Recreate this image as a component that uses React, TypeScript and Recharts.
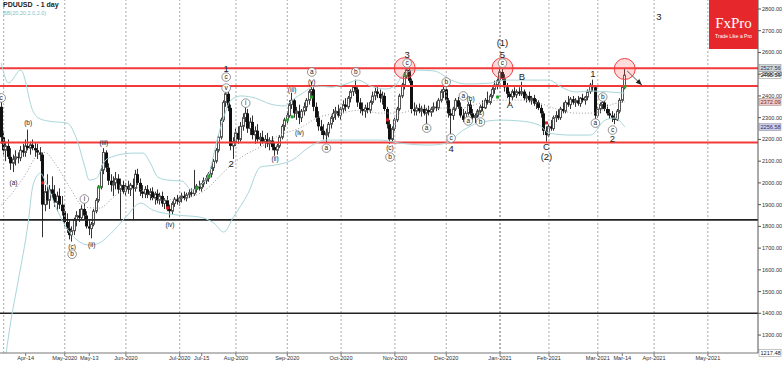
import React from 'react';
import {
  ComposedChart, Bar, Line, XAxis, YAxis, ReferenceLine, ReferenceDot,
} from 'recharts';

// ---------- data (O, H, L, C) per daily bar ----------
const candles: [number, number, number, number][] = [
  [2350,2390,2180,2210],[2210,2240,2130,2150],[2150,2190,2100,2170],[2170,2200,2110,2120],
  [2120,2160,2060,2090],[2090,2130,2050,2110],[2110,2150,2080,2120],[2120,2140,2090,2115],
  [2115,2170,2100,2150],[2150,2180,2120,2140],[2140,2200,2120,2170],[2170,2245,2150,2160],
  [2160,2190,2130,2175],[2175,2200,2150,2160],[2160,2185,2120,2150],[2150,2180,2110,2140],
  [2140,2165,2100,2130],[2130,2140,1750,1900],[1900,1990,1870,1960],[1960,2040,1900,1920],
  [1920,1990,1880,1970],[1970,2030,1930,1950],[1950,1990,1890,1910],[1910,1960,1870,1940],
  [1940,1975,1880,1900],[1900,1940,1850,1870],[1870,1900,1800,1820],[1820,1860,1770,1790],
  [1790,1830,1740,1760],[1760,1800,1730,1780],[1780,1840,1760,1830],[1830,1870,1800,1850],
  [1850,1880,1820,1840],[1840,1900,1830,1880],[1880,1905,1830,1850],[1850,1870,1790,1800],
  [1800,1830,1760,1790],[1790,1820,1745,1810],[1810,1880,1800,1870],[1870,1930,1860,1920],
  [1920,1990,1910,1980],[1980,2080,1970,2060],[2060,2160,2040,2140],[2140,2150,2050,2070],
  [2070,2090,1990,2010],[2010,2040,1960,1990],[1990,2030,1940,2000],[2000,2050,1970,2020],
  [2020,2040,1950,1970],[1970,2020,1830,1990],[1990,2010,1950,1960],[1960,2000,1940,1985],
  [1985,2010,1950,1970],[1970,2000,1940,1990],[1990,2020,1830,1975],[1975,2060,1960,2040],
  [2040,2065,1990,2000],[2000,2020,1940,1960],[1960,1990,1930,1950],[1950,1985,1930,1970],
  [1970,1990,1930,1945],[1945,1975,1920,1960],[1960,1980,1920,1930],[1930,1960,1900,1950],
  [1950,1970,1905,1920],[1920,1955,1900,1940],[1940,1960,1890,1905],[1905,1930,1880,1920],
  [1920,1940,1870,1880],[1880,1900,1840,1870],[1870,1915,1855,1905],[1905,1935,1890,1925],
  [1925,1945,1900,1915],[1915,1940,1895,1930],[1930,1955,1910,1940],[1940,1960,1920,1930],
  [1930,1955,1915,1945],[1945,1970,1930,1955],[1955,1975,1935,1950],[1950,2060,1940,1970],
  [1970,1995,1955,1985],[1985,2010,1965,1975],[1975,2000,1960,1995],[1995,2025,1980,2010],
  [2010,2035,1995,2020],[2020,2050,2005,2040],[2040,2080,2025,2070],[2070,2110,2055,2100],
  [2100,2160,2090,2150],[2150,2220,2140,2210],[2210,2300,2200,2290],[2290,2380,2280,2370],
  [2370,2440,2350,2410],[2410,2420,2330,2345],[2345,2360,2150,2170],[2170,2210,2110,2190],
  [2190,2250,2170,2230],[2230,2260,2180,2200],[2200,2280,2190,2260],[2260,2320,2240,2300],
  [2300,2370,2280,2320],[2320,2340,2230,2250],[2250,2300,2220,2280],[2280,2310,2200,2220],
  [2220,2260,2180,2240],[2240,2270,2190,2200],[2200,2230,2170,2210],[2210,2240,2180,2190],
  [2190,2220,2160,2200],[2200,2230,2165,2180],[2180,2210,2150,2195],[2195,2215,2150,2165],
  [2165,2185,2125,2150],[2150,2180,2130,2170],[2170,2220,2160,2210],[2210,2270,2200,2260],
  [2260,2300,2240,2290],[2290,2330,2270,2310],[2310,2380,2300,2360],[2360,2415,2340,2380],
  [2380,2390,2300,2320],[2320,2350,2290,2330],[2330,2360,2270,2300],[2300,2340,2280,2330],
  [2330,2370,2310,2350],[2350,2390,2330,2380],[2380,2430,2360,2420],[2420,2465,2400,2430],
  [2430,2440,2330,2350],[2350,2370,2280,2300],[2300,2330,2240,2260],[2260,2290,2220,2240],
  [2240,2270,2200,2220],[2220,2250,2185,2230],[2230,2280,2210,2270],[2270,2310,2250,2300],
  [2300,2340,2280,2320],[2320,2350,2290,2330],[2330,2360,2300,2310],[2310,2350,2290,2340],
  [2340,2380,2320,2360],[2360,2390,2330,2350],[2350,2400,2340,2390],[2390,2430,2370,2420],
  [2420,2450,2400,2440],[2440,2475,2410,2430],[2430,2440,2350,2370],[2370,2390,2320,2340],
  [2340,2370,2310,2330],[2330,2360,2300,2345],[2345,2370,2320,2335],[2335,2380,2320,2370],
  [2370,2420,2360,2400],[2400,2440,2380,2420],[2420,2445,2390,2410],[2410,2430,2370,2390],
  [2390,2420,2360,2400],[2400,2415,2330,2340],[2340,2350,2250,2270],[2270,2290,2180,2200],
  [2200,2260,2190,2250],[2250,2300,2240,2290],[2290,2350,2280,2340],[2340,2410,2330,2400],
  [2400,2460,2390,2450],[2450,2510,2430,2490],[2490,2560,2480,2520],[2520,2530,2460,2470],
  [2470,2480,2320,2340],[2340,2370,2310,2330],[2330,2360,2310,2345],[2345,2365,2320,2330],
  [2330,2355,2305,2340],[2340,2360,2310,2320],[2320,2345,2265,2335],[2335,2355,2310,2325],
  [2325,2350,2305,2340],[2340,2370,2325,2350],[2350,2375,2330,2345],[2345,2390,2335,2380],
  [2380,2430,2370,2420],[2420,2445,2390,2430],[2430,2440,2360,2380],[2380,2390,2300,2320],
  [2320,2340,2210,2310],[2310,2350,2290,2340],[2340,2390,2330,2380],[2380,2395,2340,2350],
  [2350,2370,2300,2310],[2310,2340,2280,2290],[2290,2330,2280,2320],[2320,2370,2310,2360],
  [2360,2380,2310,2320],[2320,2340,2290,2300],[2300,2320,2275,2310],[2310,2340,2300,2330],
  [2330,2360,2320,2350],[2350,2380,2330,2345],[2345,2390,2340,2380],[2380,2420,2360,2370],
  [2370,2410,2360,2400],[2400,2440,2390,2430],[2430,2470,2410,2450],[2450,2480,2430,2470],
  [2470,2530,2460,2510],[2510,2550,2470,2480],[2480,2500,2420,2440],[2440,2460,2390,2410],
  [2410,2420,2360,2395],[2395,2430,2380,2420],[2420,2440,2395,2405],[2405,2430,2390,2420],
  [2420,2440,2400,2410],[2410,2465,2400,2420],[2420,2430,2380,2390],[2390,2410,2370,2400],
  [2400,2420,2370,2380],[2380,2400,2360,2390],[2390,2405,2355,2365],[2365,2385,2340,2370],
  [2370,2380,2335,2345],[2345,2360,2300,2320],[2320,2330,2220,2240],[2240,2260,2190,2220],
  [2220,2270,2210,2260],[2260,2290,2240,2250],[2250,2310,2240,2300],[2300,2330,2280,2310],
  [2310,2340,2290,2300],[2300,2350,2290,2340],[2340,2370,2320,2330],[2330,2380,2320,2370],
  [2370,2400,2350,2360],[2360,2395,2340,2385],[2385,2400,2360,2370],[2370,2390,2350,2380],
  [2380,2400,2355,2365],[2365,2395,2350,2390],[2390,2410,2370,2380],[2380,2400,2360,2395],
  [2395,2430,2380,2420],[2420,2460,2410,2450],[2450,2475,2420,2440],[2440,2450,2280,2310],
  [2310,2350,2300,2340],[2340,2370,2320,2360],[2360,2385,2340,2370],[2370,2380,2330,2340],
  [2340,2360,2310,2320],[2320,2340,2295,2310],[2310,2330,2280,2300],[2300,2320,2270,2290],
  [2290,2340,2285,2330],[2330,2390,2320,2380],[2380,2450,2370,2440],[2440,2530,2430,2495.59],
];

const TOTAL_SLOTS = 310;

// Bollinger band readings: [bar index, price]
const bbUpper: [number, number][] = [
  [0,2552],[3,2460],[8,2519],[13,2330],[15,2300],[19,2285],[27,2275],[31,2197],[34,2082],
  [36,2013],[39,2022],[42,2096],[45,2119],[54,2137],[58,2137],[61,2091],[64,2027],[68,2013],
  [74,2008],[78,1967],[81,1985],[85,2045],[88,2183],[91,2303],[94,2381],[98,2400],[104,2390],
  [110,2363],[116,2354],[119,2381],[124,2418],[128,2446],[135,2441],[141,2455],[146,2473],
  [151,2446],[157,2432],[161,2446],[164,2492],[169,2519],[177,2515],[184,2473],[190,2455],
  [200,2459],[206,2473],[216,2473],[224,2473],[229,2441],[235,2418],[241,2423],[249,2418],[255,2413],
];
const bbMiddle: [number, number][] = [
  [0,1898],[5,1960],[10,2040],[15,2130],[18,2140],[22,2090],[28,1980],[34,1889],[40,1884],
  [47,1944],[54,1981],[65,1921],[77,1935],[85,1981],[89,2027],[95,2091],[101,2137],[106,2165],
  [114,2220],[122,2252],[130,2303],[139,2321],[147,2335],[155,2321],[163,2321],[171,2344],
  [180,2344],[188,2344],[196,2367],[204,2381],[212,2381],[220,2367],[226,2344],[235,2321],
  [243,2321],[249,2358],[255,2372],
];
const bbLower: [number, number][] = [
  [2,1217],[4,1369],[7,1553],[11,1815],[13,1990],[16,2045],[18,2010],[22,1898],[26,1806],
  [31,1737],[36,1714],[40,1723],[45,1769],[51,1843],[57,1907],[62,1875],[72,1852],[81,1843],
  [87,1815],[91,1774],[95,1843],[101,1953],[106,2073],[112,2082],[119,2105],[126,2165],
  [133,2197],[147,2197],[155,2197],[163,2183],[175,2174],[182,2183],[189,2243],[195,2275],
  [204,2289],[212,2285],[220,2266],[224,2229],[233,2220],[241,2220],[247,2289],[251,2298],[255,2257],
];

// signal dots: [bar index, price]
const greenDots: [number, number][] = [[40,1981],[80,1977],[85,2030],[117,2290],[119,2304],[127,2395],[165,2497],[203,2395],[255,2441]];
const redDots: [number, number][] = [[17,2000],[68,1885],[158,2290],[223,2276]];

// horizontal levels
const redLevels = [2527.56, 2446, 2186];
const blackLevels = [1830, 1400];

// x-axis ticks (bar index -> label)
const xTickIdx = [10, 26, 36, 51, 73, 82, 96, 117, 139, 161, 182, 204, 224, 244, 254, 267, 289];
const xTickLabels = ['Apr-14','May-2020','May-13','Jun-2020','Jul-2020','Jul-15','Aug-2020','Sep-2020','Oct-2020','Nov-2020','Dec-2020','Jan-2021','Feb-2021','Mar-2021','Mar-14','Apr-2021','May-2021'];
const monthGridIdx = [1, 26, 51, 73, 96, 117, 139, 161, 182, 204, 224, 244, 267, 289];
const yTicks = [1300,1400,1500,1600,1700,1800,1900,2000,2100,2200,2300,2400,2500,2600,2700,2800];

// price tags on the right axis: [price, background, text colour]
const priceTags: [number, string, string][] = [
  [2527.56, '#cfd8e0', '#334'], [2495.59, '#ffffff', '#111'], [2372.09, '#f3c9c9', '#633'],
  [2256.58, '#c9cbf0', '#335'], [1217.48, '#ffffff', '#222'],
];

// highlighted tops (red circles)
const topCircles: [number, number][] = [[165, 2528], [205, 2528], [255, 2524]];

// wave labels: bar index, price, text, kind (s small, c circled, b big)
const waveLabels: { i: number; p: number; t: string; k: 's' | 'c' | 'b' }[] = [
  { i: 0, p: 2391, t: 'c', k: 'c' },
  { i: 5, p: 1999, t: '(a)', k: 's' },
  { i: 11, p: 2275, t: '(b)', k: 's' },
  { i: 29, p: 1705, t: '(c)', k: 's' },
  { i: 29, p: 1672, t: 'b', k: 'c' },
  { i: 34, p: 1926, t: 'i', k: 'c' },
  { i: 37, p: 1714, t: '(ii)', k: 's' },
  { i: 42, p: 2183, t: '(iii)', k: 's' },
  { i: 69, p: 1806, t: '(iv)', k: 's' },
  { i: 92, p: 2436, t: 'v', k: 'c' },
  { i: 92, p: 2487, t: 'c', k: 'c' },
  { i: 92, p: 2524, t: '1', k: 'b' },
  { i: 94, p: 2091, t: '2', k: 'b' },
  { i: 100, p: 2367, t: 'i', k: 'c' },
  { i: 112, p: 2110, t: '(ii)', k: 's' },
  { i: 119, p: 2427, t: '(iii)', k: 's' },
  { i: 122, p: 2229, t: '(iv)', k: 's' },
  { i: 127, p: 2464, t: '(v)', k: 's' },
  { i: 127, p: 2510, t: 'a', k: 'c' },
  { i: 133, p: 2160, t: 'a', k: 'c' },
  { i: 145, p: 2510, t: 'b', k: 'c' },
  { i: 159, p: 2160, t: '(c)', k: 's' },
  { i: 159, p: 2119, t: 'b', k: 'c' },
  { i: 166, p: 2551, t: 'c', k: 'c' },
  { i: 166, p: 2588, t: '3', k: 'b' },
  { i: 174, p: 2252, t: 'a', k: 'c' },
  { i: 182, p: 2464, t: 'b', k: 'c' },
  { i: 184, p: 2206, t: 'c', k: 'c' },
  { i: 184, p: 2160, t: '4', k: 'b' },
  { i: 189, p: 2400, t: 'a', k: 'c' },
  { i: 192, p: 2386, t: '(b)', k: 's' },
  { i: 191, p: 2285, t: 'a', k: 'c' },
  { i: 196, p: 2321, t: '(c)', k: 's' },
  { i: 196, p: 2280, t: 'b', k: 'c' },
  { i: 205, p: 2551, t: 'c', k: 'c' },
  { i: 205, p: 2592, t: '5', k: 'b' },
  { i: 205, p: 2645, t: '(1)', k: 'b' },
  { i: 208, p: 2358, t: 'A', k: 'b' },
  { i: 213, p: 2487, t: 'B', k: 'b' },
  { i: 223, p: 2165, t: 'C', k: 'b' },
  { i: 223, p: 2119, t: '(2)', k: 'b' },
  { i: 242, p: 2505, t: '1', k: 'b' },
  { i: 243, p: 2275, t: 'a', k: 'c' },
  { i: 246, p: 2395, t: 'b', k: 'c' },
  { i: 250, p: 2243, t: 'c', k: 'c' },
  { i: 250, p: 2202, t: '2', k: 'b' },
  { i: 269, p: 2763, t: '3', k: 'b' },
];

// projected move arrow: from / to (bar index, price)
const arrowFrom: [number, number] = [256, 2515];
const arrowTo: [number, number] = [262, 2450];

// ---------- table built from the arrays ----------
type Row = { i: number; range?: [number, number] | null; o?: number; h?: number; l?: number; c?: number; up?: number; mid?: number; lo?: number };
const rows: Row[] = Array.from({ length: TOTAL_SLOTS }, (_, i) => {
  const k = candles[i];
  return k ? { i, range: [k[2], k[1]], o: k[0], h: k[1], l: k[2], c: k[3] } : { i, range: null };
});
bbUpper.forEach(([i, v]) => { rows[i].up = v; });
bbMiddle.forEach(([i, v]) => { rows[i].mid = v; });
bbLower.forEach(([i, v]) => { rows[i].lo = v; });

const FONT = '"Liberation Sans", Arial, sans-serif';

const Candle = (props: any) => {
  const { x, y, width, height, payload } = props;
  if (!payload || payload.o == null) return null;
  const { o, h, l, c } = payload;
  const top = Math.min(y, y + height);
  const bot = Math.max(y, y + height);
  const k = h === l ? 0 : (bot - top) / (h - l);
  const yo = top + (h - o) * k;
  const yc = top + (h - c) * k;
  const up = c >= o;
  const cx = Math.floor(x + width / 2);
  const bTop = Math.min(yo, yc);
  const bH = Math.max(1, Math.abs(yc - yo));
  return (
    <g>
      <line x1={cx + 0.5} x2={cx + 0.5} y1={top} y2={bot} stroke="#333" strokeWidth={1} />
      {up ? (
        <rect x={cx - 0.5} y={bTop} width={2} height={bH} fill="#fff" stroke="#555" strokeWidth={1} />
      ) : (
        <rect x={cx - 1} y={bTop} width={3} height={bH} fill="#111" />
      )}
    </g>
  );
};

const waveShape = (a: { t: string; k: 's' | 'c' | 'b' }) => (props: any) => {
  const { cx, cy } = props;
  if (cx == null || cy == null) return <g />;
  if (a.k === 'c') {
    return (
      <g>
        <circle cx={cx} cy={cy} r={4.3} fill="#fff" stroke="#777" strokeWidth={0.8} />
        <text x={cx} y={cy + 2.3} textAnchor="middle" fontSize={6.5} fontFamily={FONT} fill="#222">{a.t}</text>
      </g>
    );
  }
  if (a.k === 'b') {
    return <text x={cx} y={cy + 3.4} textAnchor="middle" fontSize={9.5} fontFamily={FONT} fill="#222">{a.t}</text>;
  }
  return <text x={cx} y={cy + 2.3} textAnchor="middle" fontSize={6.5} fontFamily={FONT} fill="#222">{a.t}</text>;
};

const dotShape = (color: string) => (props: any) => {
  const { cx, cy } = props;
  if (cx == null) return <g />;
  return <rect x={cx - 1.5} y={cy - 1.5} width={3} height={3} fill={color} />;
};

const arrowHead = (props: any) => {
  const { cx, cy } = props;
  if (cx == null) return <g />;
  return <polygon points="0,0 -6,-2.6 -6,2.6" fill="#222" transform={`translate(${cx},${cy}) rotate(44)`} />;
};

const tagLabel = (bg: string, fg: string, text: string) => (props: any) => {
  const vb = props.viewBox || {};
  const x = (vb.x || 0) + (vb.width || 0) + 1;
  const y = vb.y || 0;
  return (
    <g>
      <rect x={x} y={y - 3.5} width={22} height={7} fill={bg} stroke="#888" strokeWidth={0.5} />
      <text x={x + 1.5} y={y + 2} fontSize={5.6} fontFamily={FONT} fill={fg}>{text}</text>
    </g>
  );
};

export default function App() {
  return (
    <div style={{ position: 'absolute', left: 0, top: 0, width: 782, height: 366, background: '#fff', overflow: 'hidden' }}>
      <ComposedChart
        width={782}
        height={366}
        data={rows}
        margin={{ top: 0, right: 0, left: 0, bottom: 0 }}
        barCategoryGap={0}
        barGap={0}
      >
        <XAxis
          dataKey="i"
          type="category"
          ticks={xTickIdx}
          interval={0}
          height={13}
          tickSize={3}
          tickMargin={0}
          axisLine={{ stroke: '#777' }}
          tickLine={{ stroke: '#777' }}
          tick={{ fontSize: 5.6, fontFamily: FONT, fill: '#333' }}
          tickFormatter={(v: any) => xTickLabels[xTickIdx.indexOf(Number(v))] ?? ''}
        />
        <YAxis
          orientation="right"
          type="number"
          domain={[1217.48, 2841.4]}
          allowDataOverflow
          ticks={yTicks}
          interval={0}
          width={24}
          tickSize={3}
          tickMargin={1}
          axisLine={{ stroke: '#555' }}
          tickLine={{ stroke: '#555' }}
          tick={{ fontSize: 5.6, fontFamily: FONT, fill: '#333', textAnchor: 'start' }}
          tickFormatter={(v: number) => v.toFixed(2)}
        />

        {monthGridIdx.map((m) => (
          <ReferenceLine key={'g' + m} x={m} stroke={m === 204 ? '#666' : '#aaa'} strokeDasharray="2 2" strokeWidth={1} />
        ))}

        {blackLevels.map((v) => (
          <ReferenceLine key={'b' + v} y={v} stroke="#222" strokeWidth={1.6} />
        ))}
        {redLevels.map((v) => (
          <ReferenceLine key={'r' + v} y={v} stroke="#f23a3a" strokeWidth={2} />
        ))}

        <Line dataKey="up" stroke="#a9d6da" strokeWidth={1} dot={false} activeDot={false} connectNulls type="monotone" isAnimationActive={false} />
        <Line dataKey="lo" stroke="#a9d6da" strokeWidth={1} dot={false} activeDot={false} connectNulls type="monotone" isAnimationActive={false} />
        <Line dataKey="mid" stroke="#9a9a9a" strokeWidth={1} strokeDasharray="1 2" dot={false} activeDot={false} connectNulls type="monotone" isAnimationActive={false} />

        <Bar dataKey="range" shape={Candle} isAnimationActive={false} />

        {greenDots.map(([i, p]) => (
          <ReferenceDot key={'gd' + i} x={i} y={p} r={1.5} shape={dotShape('#22a32a')} />
        ))}
        {redDots.map(([i, p]) => (
          <ReferenceDot key={'rd' + i} x={i} y={p} r={1.5} shape={dotShape('#d42020')} />
        ))}

        {topCircles.map(([i, p]) => (
          <ReferenceDot key={'tc' + i} x={i} y={p} r={10.5} fill="rgba(255,90,90,0.22)" stroke="#f04040" strokeWidth={1} />
        ))}

        {waveLabels.map((a, n) => (
          <ReferenceDot key={'w' + n} x={a.i} y={a.p} r={1} ifOverflow="visible" shape={waveShape(a)} />
        ))}

        <ReferenceLine
          segment={[{ x: arrowFrom[0], y: arrowFrom[1] }, { x: arrowTo[0], y: arrowTo[1] }]}
          stroke="#222"
          strokeWidth={0.8}
        />
        <ReferenceDot x={arrowTo[0]} y={arrowTo[1]} r={1} shape={arrowHead} />

        {priceTags.map(([v, bg, fg]) => (
          <ReferenceLine key={'t' + v} y={v} stroke="none" strokeOpacity={0} label={tagLabel(bg, fg, v.toFixed(2))} />
        ))}
      </ComposedChart>

      <div style={{ position: 'absolute', left: 3, top: 1, fontFamily: FONT, fontSize: 7, fontWeight: 'bold', color: '#222', whiteSpace: 'pre' }}>
        {'PDUUSD  - 1 day'}
      </div>
      <div style={{ position: 'absolute', left: 3, top: 10, fontFamily: FONT, fontSize: 5.5, color: '#7fc1c6', whiteSpace: 'pre' }}>
        {'BB(20,20,2.0,2.0)'}
      </div>
      <div style={{ position: 'absolute', left: 709, top: 0, width: 49, height: 49, background: '#e6282d', color: '#fff', textAlign: 'center' }}>
        <div style={{ fontFamily: '"Liberation Serif", "DejaVu Serif", serif', fontSize: 15, marginTop: 16, lineHeight: '15px' }}>FxPro</div>
        <div style={{ fontFamily: FONT, fontSize: 5, marginTop: 2, lineHeight: '6px' }}>Trade Like a Pro</div>
      </div>
    </div>
  );
}
